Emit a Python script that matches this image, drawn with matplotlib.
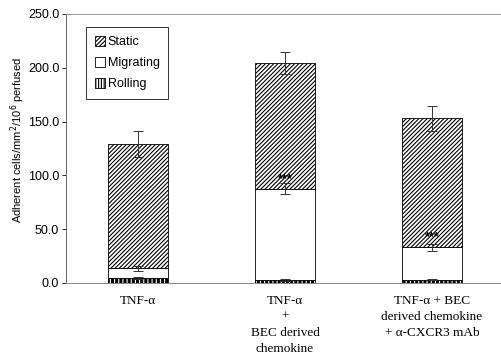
import matplotlib
matplotlib.use("Agg")
import matplotlib.pyplot as plt
from matplotlib.patches import Patch
import numpy as np

# values (cells/mm2/10^6 perfused)
groups = ["TNF-α",
          "TNF-α\n+\nBEC derived\nchemokine",
          "TNF-α + BEC\nderived chemokine\n+ α-CXCR3 mAb"]
rolling = [4.5, 2.5, 3.0]
rolling_err = [0.8, 0.8, 0.6]
migrating = [9.0, 85.0, 30.0]
migrating_err = [2.5, 5.0, 3.0]
static = [115.5, 117.0, 120.0]
static_err = [12.0, 10.5, 11.5]
signif = ["", "***", "***"]
yticks = [0, 50, 100, 150, 200, 250]

plt.rcParams["hatch.linewidth"] = 0.8
plt.rcParams["font.family"] = ["Liberation Sans", "DejaVu Sans"]

fig = plt.figure(figsize=(5.01, 3.58), dpi=100)
ax = fig.add_axes([0.132, 0.21, 0.868, 0.751])

x = np.arange(len(groups))
w = 0.41
rolling = np.array(rolling)
migrating = np.array(migrating)
static = np.array(static)

# rolling: black blocks separated by white stripes, then a black outline
ax.bar(x, rolling, w, color="black", edgecolor="white", hatch="||||",
       linewidth=0, zorder=2)
ax.bar(x, rolling, w, color="none", edgecolor="black", linewidth=0.6, zorder=2)
ax.bar(x, migrating, w, bottom=rolling, color="white", edgecolor="black",
       linewidth=0.6, label="Migrating", zorder=2)
ax.bar(x, static, w, bottom=rolling + migrating, color="white", edgecolor="black",
       hatch="////////", linewidth=0.6, label="Static", zorder=2)

ekw = dict(fmt="none", ecolor="#333333", elinewidth=0.7, capsize=3.5, capthick=0.7, zorder=3)
ax.errorbar(x, rolling, yerr=rolling_err, **ekw)
ax.errorbar(x, rolling + migrating, yerr=migrating_err, **ekw)
ax.errorbar(x, rolling + migrating + static, yerr=static_err, **ekw)

for xi, s, top in zip(x, signif, rolling + migrating):
    if s:
        ax.text(xi, top + 9, s, ha="center", va="center", fontsize=9,
                fontweight="bold", zorder=4)

ax.set_xlim(-0.49, 2.47)
ax.set_ylim(0, 250)
ax.set_yticks(yticks)
ax.set_yticklabels(["%.1f" % v for v in yticks], fontsize=9)
ax.tick_params(axis="y", length=3, width=0.6, pad=2)
ax.set_xticks(x)
ax.set_xticklabels(groups, fontsize=9.5, family=["Liberation Serif"], linespacing=1.42,
                   va="top")
ax.tick_params(axis="x", length=0, pad=9)
ax.set_ylabel("Adherent cells/mm$^2$/10$^6$ perfused", fontsize=8)
ax.yaxis.set_label_coords(-0.09, 0.53)

ax.spines["right"].set_visible(False)
ax.spines["top"].set_color("#999999")
ax.spines["bottom"].set_color("#888888")
ax.spines["left"].set_color("#666666")
for sp in ax.spines.values():
    sp.set_linewidth(0.7)

rolling_handle = Patch(facecolor="white", edgecolor="black", hatch="||||||", linewidth=0.6)
handles, labels = ax.get_legend_handles_labels()
handles = handles[::-1] + [rolling_handle]
labels = labels[::-1] + ["Rolling"]
leg = ax.legend(handles, labels, loc="upper left",
                bbox_to_anchor=(0.032, 0.974), fontsize=9, frameon=True,
                fancybox=False, edgecolor="black", handlelength=0.8,
                handleheight=0.8, handletextpad=0.2, labelspacing=0.72,
                borderpad=0.7)
leg.get_frame().set_linewidth(0.7)

fig.savefig("out.png", dpi=100)
